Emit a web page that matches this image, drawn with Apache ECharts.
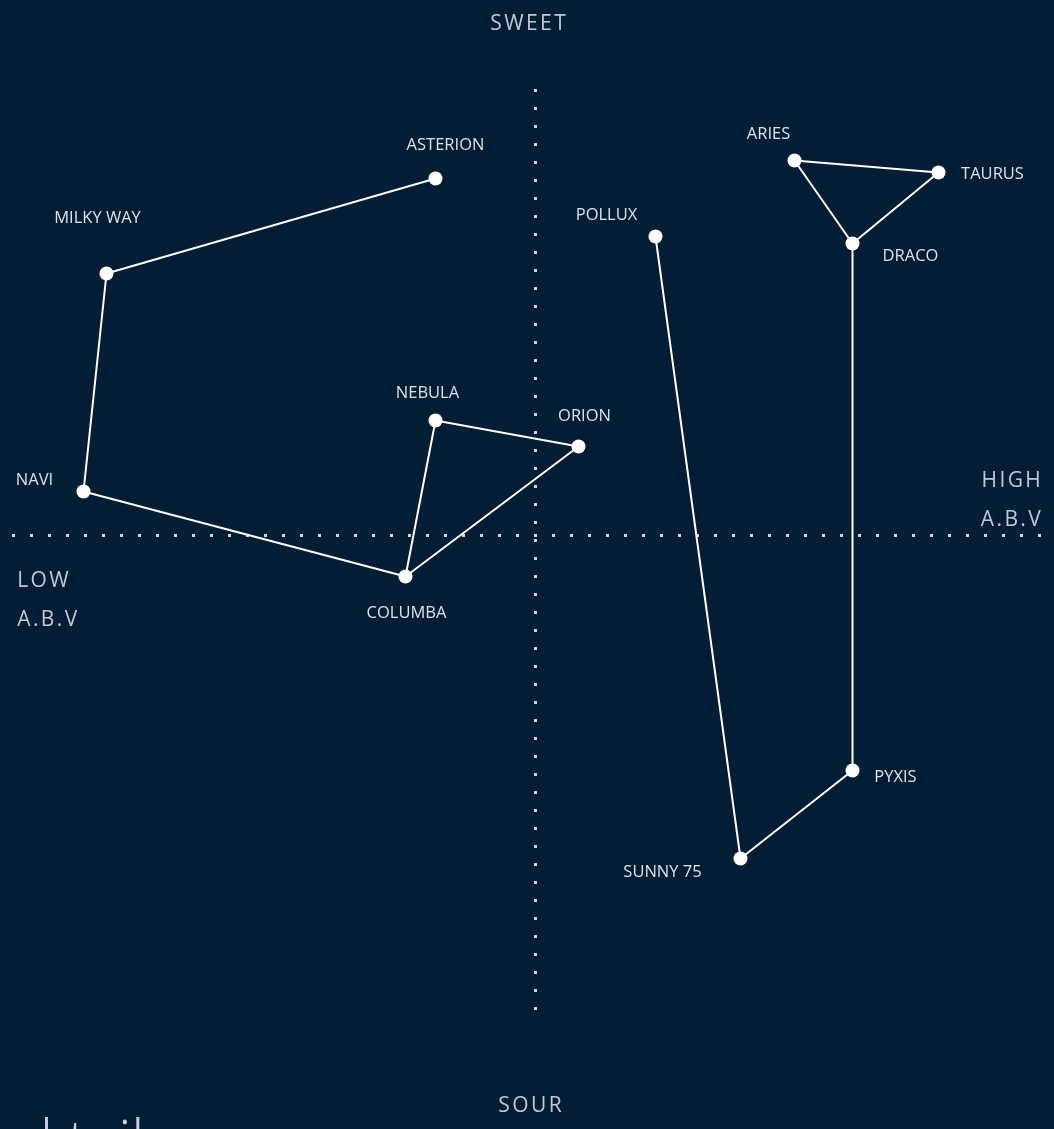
<!DOCTYPE html>
<html>
<head>
<meta charset="utf-8">
<title>Flavour map</title>
<script src="https://cdn.jsdelivr.net/npm/echarts@6/dist/echarts.min.js"></script>
<style>
  html, body { margin: 0; padding: 0; background: #021d34; }
  #main { width: 1054px; height: 1129px; }
</style>
</head>
<body>
<div id="main"></div>
<script>
// 每个点：名称、横轴（酒精度）、纵轴（甜 / 酸）
var names = ['ASTERION', 'MILKY WAY', 'NAVI', 'COLUMBA', 'NEBULA', 'ORION',
             'POLLUX', 'SUNNY 75', 'PYXIS', 'DRACO', 'ARIES', 'TAURUS'];
var abv = [-20, -85.8, -90.4, -26, -20, 8.6, 24, 41, 63.4, 63.4, 51.8, 80.6];
var sweetness = [71.4, 52.4, 8.8, -8.2, 23, 17.8, 59.8, -64.6, -47, 58.4, 75, 72.6];

// 连线顺序
var path1 = ['ASTERION', 'MILKY WAY', 'NAVI', 'COLUMBA', 'NEBULA', 'ORION', 'COLUMBA'];
var path2 = ['POLLUX', 'SUNNY 75', 'PYXIS', 'DRACO', 'ARIES', 'TAURUS', 'DRACO'];

// 标签相对点的偏移（像素）
var labelOffset = {
    'ASTERION': [10, -33], 'MILKY WAY': [-9, -55], 'NAVI': [-49, -11],
    'COLUMBA': [1, 37], 'NEBULA': [-8, -27], 'ORION': [6, -30],
    'POLLUX': [-49, -21], 'SUNNY 75': [-78, 14], 'PYXIS': [43, 7],
    'DRACO': [58, 13], 'ARIES': [-26, -26], 'TAURUS': [54, 2]
};

function coord(name) {
    var i = names.indexOf(name);
    return [abv[i], sweetness[i]];
}

var pointData = names.map(function (n, i) {
    return {
        name: n,
        value: [abv[i], sweetness[i]],
        label: { offset: labelOffset[n] }
    };
});

// 字间距：每个字母单独一段 rich 文本
function spaced(str) {
    return str.split('').map(function (c) { return '{l|' + c + '}'; }).join('');
}
function axisTitle(str, x, y, align) {
    return {
        type: 'text', x: x, y: y,
        style: {
            text: spaced(str), align: align, verticalAlign: 'middle',
            rich: { l: { fill: '#bfc9d5', fontSize: 21, fontFamily: 'Open Sans', padding: [0, 1.2, 0, 1.2] } }
        }
    };
}

var dotted = { color: '#cdd5de', width: 3, type: [3, 15], cap: 'butt' };

var myChart = echarts.init(document.getElementById('main'));
myChart.setOption({
    backgroundColor: '#021d34',
    animation: false,
    grid: { left: 12, right: 0, top: 80, bottom: 119 },
    xAxis: {
        type: 'value', min: -104.7, max: 103.7,
        axisLine: { show: true, onZero: true, lineStyle: dotted },
        axisTick: { show: false }, axisLabel: { show: false }, splitLine: { show: false }
    },
    yAxis: {
        type: 'value', min: -94.9, max: 91.1,
        axisLine: { show: true, onZero: true, lineStyle: dotted },
        axisTick: { show: false }, axisLabel: { show: false }, splitLine: { show: false }
    },
    graphic: [
        axisTitle('SWEET', 528, 24, 'center'),
        axisTitle('SOUR', 530, 1106, 'center'),
        axisTitle('HIGH', 1042, 481, 'right'),
        axisTitle('A.B.V', 1042, 520, 'right'),
        axisTitle('LOW', 16, 581, 'left'),
        axisTitle('A.B.V', 16, 620, 'left'),
        { type: 'text', left: 40, top: 1116, style: { text: 'ktail', fill: '#c9d2dc', fontSize: 58, fontWeight: 300, fontFamily: 'Open Sans' } }
    ],
    series: [{
        type: 'line',
        data: path1.map(coord),
        symbol: 'none',
        lineStyle: { color: '#ffffff', width: 2 },
        z: 3
    }, {
        type: 'line',
        data: path2.map(coord),
        symbol: 'none',
        lineStyle: { color: '#ffffff', width: 2 },
        z: 3
    }, {
        type: 'scatter',
        data: pointData,
        symbolSize: 14,
        itemStyle: { color: '#ffffff', opacity: 1 },
        label: {
            show: true,
            position: 'inside',
            formatter: '{b}',
            color: '#dbe2ea',
            fontSize: 16.5,
            fontFamily: 'Open Sans'
        },
        z: 4
    }]
});
</script>
</body>
</html>
